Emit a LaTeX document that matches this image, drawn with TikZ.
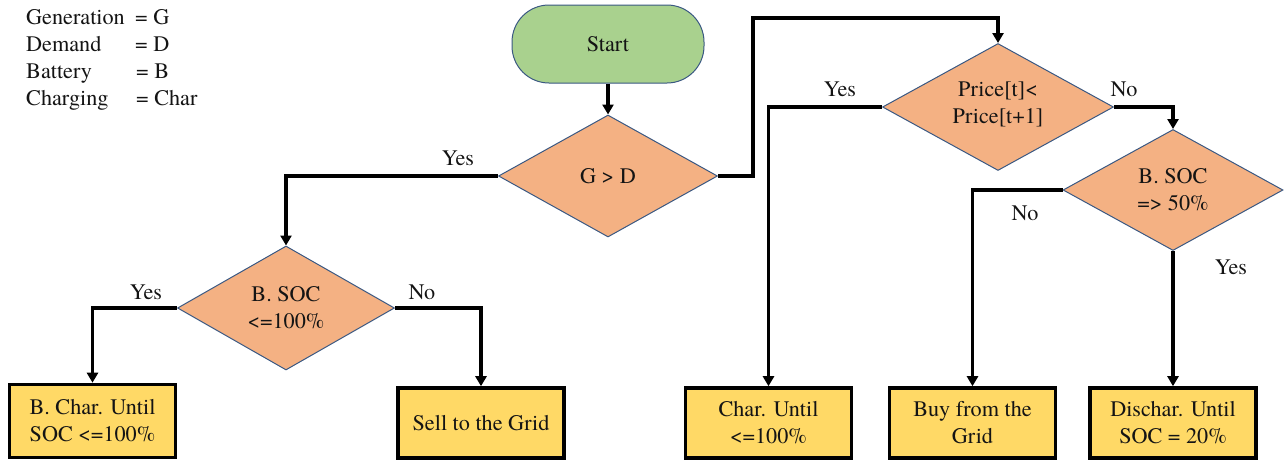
\documentclass[tikz,border=0pt]{standalone}
\usepackage{fontspec}
\setmainfont{texgyretermes}[Extension=.otf, UprightFont=*-regular, BoldFont=*-bold, ItalicFont=*-italic, BoldItalicFont=*-bolditalic]
\usetikzlibrary{shapes.geometric,arrows.meta}
\definecolor{startg}{HTML}{A9D18E}
\definecolor{diaor}{HTML}{F4B183}
\definecolor{boxy}{HTML}{FFD966}
\definecolor{edgeb}{HTML}{3A5882}
\definecolor{txt}{HTML}{141414}
\tikzset{
  base/.style={font=\fontsize{22.2}{27}\selectfont, text=txt},
  startbox/.style={base, draw=edgeb, line width=1pt, fill=startg, rounded corners=37pt, minimum width=192pt, minimum height=78pt, inner sep=0pt},
  dia/.style={diamond, draw=edgeb, line width=1pt, fill=diaor, inner sep=0pt},
  diatext/.style={base, align=center, inner sep=0pt},
  actbox/.style={base, draw=black, line width=3.6pt, fill=boxy, minimum width=166pt, minimum height=70pt, align=center, inner sep=0pt},
  arr/.style={line width=3.3pt, -{Triangle[length=10pt,width=11pt]}},
  lbl/.style={base, inner sep=1pt},
  leg/.style={base, anchor=base west, inner sep=0pt},
}
\begin{document}
\begin{tikzpicture}[x=1pt,y=-1pt]
\useasboundingbox (0,0) rectangle (1284,461);
% legend
\node[leg] (l1) at (26,24) {Generation};
\node[leg] (l2) at (26,51) {Demand};
\node[leg] (l3) at (26,78) {Battery};
\node[leg] (l4) at (26,105) {Charging};
\node[leg] (e1) at (135,24) {= G};
\node[leg] (e2) at (135,51) {= D};
\node[leg] (e3) at (136,78) {= B};
\node[leg] (e4) at (136,105) {= Char};
% shapes
\node[startbox] (start) at (608,44) {Start};
\node[dia, minimum width=219pt, minimum height=122pt] (d1) at (608,176) {};
\node[diatext] (d1t) at (d1) {G > D};
\node[dia, minimum width=217pt, minimum height=124pt] (b1) at (286,308) {};
\node[diatext] (b1t) at (b1) {B. SOC\\<=100\%};
\node[dia, minimum width=231pt, minimum height=127pt] (p) at (998,107) {};
\node[diatext] (pt) at ([yshift=3pt]p.center) {Price[t]<\\Price[t+1]};
\node[dia, minimum width=220pt, minimum height=121pt] (b2) at (1173,190) {};
\node[diatext] (b2t) at (b2) {B. SOC\\=> 50\%};
\node[actbox, minimum height=73pt] (x1) at (92.5,421) {B. Char. Until\\SOC <=100\%};
\node[actbox] (x2) at (481,423) {Sell to the Grid};
\node[actbox] (x3) at (768.5,423) {Char. Until\\<=100\%};
\node[actbox] (x4) at (972.5,423) {Buy from the\\Grid};
\node[actbox] (x5) at (1173,423) {Dischar. Until\\SOC = 20\%};
% connectors
\coordinate (c1) at (753,18);
\draw[arr] (start) -- (d1);
\draw[arr] (d1.west) -| (b1.north);
\draw[arr] (b1.west) -| (x1.north);
\draw[arr] (b1.east) -| (x2.north);
\draw[arr] (d1.east) -| (c1) -| (p.north);
\draw[arr] (p.west) -| (x3.north);
\draw[arr] (p.east) -| (b2.north);
\draw[arr] (b2.west) -| (x4.north);
\draw[arr] (b2.south) -- (x5.north);
% labels
\node[lbl] (y1) at (458,158) {Yes};
\node[lbl] (y2) at (146,292) {Yes};
\node[lbl] (n1) at (422,292) {No};
\node[lbl] (y3) at (840,89) {Yes};
\node[lbl] (n2) at (1124,89) {No};
\node[lbl] (n3) at (1025,213) {No};
\node[lbl] (y4) at (1231,267) {Yes};
\end{tikzpicture}
\end{document}
